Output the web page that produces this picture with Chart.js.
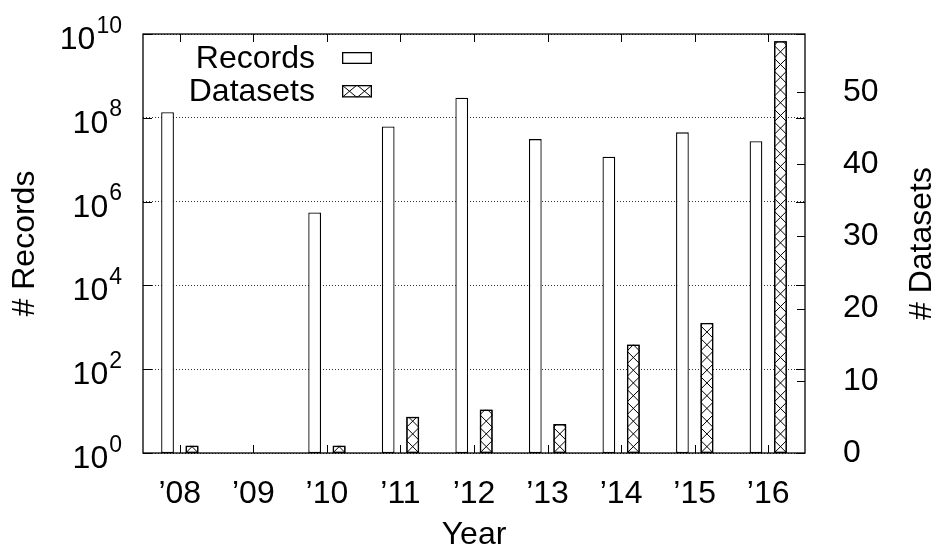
<!DOCTYPE html>
<html>
<head>
<meta charset="utf-8">
<script src="https://cdn.jsdelivr.net/npm/chart.js@4.4.1/dist/chart.umd.min.js"></script>
<style>
    html, body { margin: 0; padding: 0; background: #fff; }
    canvas { display: block; }
</style>
</head>
<body>
<canvas id="chart" width="935" height="548"></canvas>
<script>
// values
const years = ['\u201908', '\u201909', '\u201910', '\u201911', '\u201912', '\u201913', '\u201914', '\u201915', '\u201916'];
const records = [1.36e8, null, 5.5e5, 6.2e7, 3.0e8, 3.1e7, 1.18e7, 4.5e7, 2.75e7];
const datasetCounts = [1, 0, 1, 5, 6, 4, 15, 18, 57];
const recordTicks = [1e0, 1e2, 1e4, 1e6, 1e8, 1e10];
const datasetTicks = [0, 10, 20, 30, 40, 50];

const FONT = '"Liberation Sans", Arial, Helvetica, sans-serif';
Chart.defaults.font.family = FONT;
Chart.defaults.color = '#000';

// crosshatch fill, cells stacked from the bottom of the box
const crossHatch = (ctx, left, top, w, h, cw, ch) => {
    ctx.save();
    ctx.beginPath();
    ctx.rect(left, top, w, h);
    ctx.clip();
    ctx.beginPath();
    const bottom = top + h;
    for (let y = bottom; y > top - ch; y -= ch) {
        for (let x = left; x < left + w - 0.1; x += cw) {
            ctx.moveTo(x, y); ctx.lineTo(x + cw, y - ch);
            ctx.moveTo(x + cw, y); ctx.lineTo(x, y - ch);
        }
    }
    ctx.lineWidth = 1;
    ctx.strokeStyle = '#000';
    ctx.stroke();
    ctx.restore();
    ctx.save();
    ctx.lineWidth = 1.3;
    ctx.strokeStyle = '#000';
    ctx.strokeRect(left + 0.65, top + 0.65, w - 1.3, h - 1.3);
    ctx.restore();
};

// no label overhang padding, the plot box is fixed by the axis sizes
const noOverhang = s => { s.paddingTop = 0; s.paddingBottom = 0; s.paddingLeft = 0; s.paddingRight = 0; };

const gnuplotLook = {
    id: 'gnuplotLook',
    afterDatasetsDraw(chart) {
        const ctx = chart.ctx;
        const meta = chart.getDatasetMeta(1);
        meta.data.forEach((bar, i) => {
            if (!datasetCounts[i]) return;
            const {x, y, base, width} = bar.getProps(['x', 'y', 'base', 'width'], true);
            const top = Math.min(y, base);
            crossHatch(ctx, x - width / 2, top, width, Math.abs(base - y), width, width);
        });
    },
    afterDraw(chart) {
        const ctx = chart.ctx;
        const {left, right, top, bottom} = chart.chartArea;
        const xs = chart.scales.x, ys = chart.scales.y, y2 = chart.scales.y2;
        ctx.save();
        ctx.strokeStyle = '#000';
        ctx.lineWidth = 1.3;
        ctx.strokeRect(left, top, right - left, bottom - top);

        // inward tick marks
        ctx.beginPath();
        years.forEach((_, i) => {
            const px = Math.round(xs.getPixelForTick(i)) + 0.5;
            ctx.moveTo(px, bottom); ctx.lineTo(px, bottom - 8);
            ctx.moveTo(px, top); ctx.lineTo(px, top + 8);
        });
        recordTicks.forEach(v => {
            const py = Math.round(ys.getPixelForValue(v)) + 0.5;
            ctx.moveTo(left, py); ctx.lineTo(left + 9, py);
            ctx.moveTo(right, py); ctx.lineTo(right - 9, py);
        });
        datasetTicks.forEach(v => {
            const py = Math.round(y2.getPixelForValue(v)) + 0.5;
            ctx.moveTo(right, py); ctx.lineTo(right - 8, py);
        });
        ctx.lineWidth = 1;
        ctx.stroke();

        // left tick labels 10^n
        ctx.fillStyle = '#000';
        ctx.textBaseline = 'alphabetic';
        ctx.textAlign = 'left';
        recordTicks.forEach(v => {
            const py = ys.getPixelForValue(v);
            const exp = String(Math.round(Math.log10(v)));
            ctx.font = '23px ' + FONT;
            const expW = ctx.measureText(exp).width;
            ctx.font = '32px ' + FONT;
            const baseW = ctx.measureText('10').width;
            const expX = left - 21 - expW;
            ctx.fillText('10', expX - 1 - baseW, py + 15);
            ctx.font = '23px ' + FONT;
            ctx.fillText(exp, expX, py - 1.5);
        });

        // right axis title, reading upwards
        ctx.font = '32px ' + FONT;
        ctx.textAlign = 'center';
        ctx.textBaseline = 'middle';
        ctx.save();
        ctx.translate(922, (top + bottom) / 2);
        ctx.rotate(-Math.PI / 2);
        ctx.fillText('# Datasets', 0, 0);
        ctx.restore();

        // key
        ctx.textAlign = 'right';
        ctx.fillText('Records', left + 172, top + 25);
        ctx.fillText('Datasets', left + 172, top + 58.5);
        ctx.lineWidth = 1.3;
        ctx.fillStyle = '#fff';
        ctx.fillRect(left + 199, top + 18, 30, 12);
        ctx.strokeRect(left + 199.65, top + 18.65, 28.7, 10.7);
        ctx.fillRect(left + 199, top + 51, 30, 12.5);
        crossHatch(ctx, left + 199, top + 51, 30, 12.5, 15, 12.5);
        ctx.restore();
    }
};

const barStyle = {
    backgroundColor: '#fff',
    borderColor: '#000',
    borderWidth: 1.3,
    borderSkipped: false,
    categoryPercentage: 0.666,
    barPercentage: 0.52
};

new Chart(document.getElementById('chart'), {
    type: 'bar',
    data: {
        labels: years,
        datasets: [
            {label: 'Records', data: records, yAxisID: 'y', ...barStyle},
            {label: 'Datasets', data: datasetCounts, yAxisID: 'y2', ...barStyle}
        ]
    },
    options: {
        responsive: false,
        animation: false,
        layout: {padding: {top: 34, left: 0, right: 0, bottom: 0}},
        plugins: {legend: {display: false}, tooltip: {enabled: false}},
        scales: {
            x: {
                grid: {display: false},
                border: {display: false},
                ticks: {font: {size: 32}, padding: 14, maxRotation: 0, autoSkip: false},
                title: {display: true, text: 'Year', font: {size: 32, lineHeight: 0.8}, padding: 0},
                afterFit: s => { s.height = 95; noOverhang(s); }
            },
            y: {
                type: 'logarithmic',
                position: 'left',
                min: 1,
                max: 1e10,
                afterBuildTicks: s => { s.ticks = recordTicks.map(v => ({value: v})); },
                ticks: {display: false},
                grid: {color: '#333', lineWidth: 1, drawTicks: false},
                border: {display: false, dash: [1, 2]},
                title: {display: true, text: '# Records', font: {size: 32}, padding: {top: 6, bottom: 0}},
                afterFit: s => { s.width = 143; noOverhang(s); }
            },
            y2: {
                type: 'linear',
                position: 'right',
                min: 0,
                max: 58,
                afterBuildTicks: s => { s.ticks = datasetTicks.map(v => ({value: v})); },
                ticks: {font: {size: 32}, padding: 30},
                grid: {display: false},
                border: {display: false},
                afterFit: s => { s.width = 130; noOverhang(s); }
            }
        }
    },
    plugins: [gnuplotLook]
});
</script>
</body>
</html>
